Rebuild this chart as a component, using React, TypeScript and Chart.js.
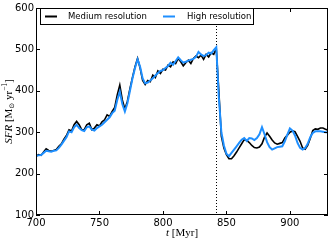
import React, { useEffect, useRef } from "react";
import { Chart, registerables } from "chart.js";

Chart.register(...registerables);

const times = [
  700, 702, 704, 706, 708, 710, 712, 714, 716, 718, 720, 722, 724, 726, 728, 730, 732, 734, 736, 738,
  740, 742, 744, 746, 748, 750, 752, 754, 756, 758, 760, 762, 764, 766, 768, 770, 772, 774, 776, 778,
  780, 782, 784, 786, 788, 790, 792, 794, 796, 798, 800, 802, 804, 806, 808, 810, 812, 814, 816, 818,
  820, 822, 824, 826, 828, 830, 832, 834, 836, 838, 840, 842, 844, 846, 848, 850, 852, 854, 856, 858,
  860, 862, 864, 866, 868, 870, 872, 874, 876, 878, 880, 882, 884, 886, 888, 890, 892, 894, 896, 898,
  900, 902, 904, 906, 908, 910, 912, 914, 916, 918, 920, 922, 924, 926, 928, 930,
];

const mediumRes = [
  242, 246, 244, 252, 260, 256, 254, 256, 258, 266, 272, 283, 292, 306, 303, 318, 326, 318, 306, 306,
  318, 322, 306, 310, 318, 315, 325, 330, 342, 338, 350, 360, 390, 414, 378, 356, 375, 405, 432, 458,
  478, 455, 425, 415, 425, 422, 438, 432, 448, 442, 452, 450, 462, 458, 470, 466, 478, 470, 460, 468,
  474, 466, 478, 484, 480, 486, 476, 488, 482, 492, 488, 502, 400, 290, 262, 246, 236, 236, 243, 252,
  262, 272, 282, 280, 275, 268, 263, 262, 264, 272, 288, 298, 290, 281, 274, 271, 273, 275, 286, 293,
  300, 303, 301, 290, 278, 262, 259, 268, 285, 304, 308, 307, 310, 310, 307, 305,
];

const highRes = [
  243, 244, 245, 250, 255, 254, 253, 255, 256, 262, 270, 279, 288, 302, 300, 312, 318, 310, 305, 303,
  312, 314, 306, 304, 310, 314, 318, 324, 330, 336, 346, 352, 378, 398, 368, 350, 370, 400, 430, 455,
  476, 458, 430, 418, 420, 425, 430, 437, 443, 448, 450, 455, 460, 468, 463, 472, 481, 474, 468, 470,
  473, 475, 477, 482, 494, 488, 484, 486, 492, 490, 498, 505, 385, 300, 268, 248, 242, 250, 258, 266,
  274, 282, 286, 279, 286, 285, 281, 286, 295, 312, 295, 276, 264, 258, 261, 264, 265, 266, 278, 294,
  309, 304, 292, 274, 262, 258, 262, 272, 288, 298, 302, 302, 302, 301, 300, 299,
];

const xTicks = [700, 750, 800, 850, 900];
const yTicks = [100, 200, 300, 400, 500, 600];
const seriesLabels = ["Medium resolution", "High resolution"];
const seriesColors = ["#000000", "#1e8fff"];
const transitionTime = 842;

const SANS = "'DejaVu Sans', sans-serif";
const SERIF = "'Liberation Serif', 'DejaVu Serif', serif";

const decorPlugin = {
  id: "decor",
  beforeDatasetsDraw(chart: any) {
    const ctx = chart.ctx;
    const { top, bottom } = chart.chartArea;
    const px = Math.round(chart.scales.x.getPixelForValue(transitionTime)) + 0.5;
    ctx.save();
    ctx.strokeStyle = "#000";
    ctx.lineWidth = 1;
    ctx.setLineDash([1, 2]);
    ctx.beginPath();
    ctx.moveTo(px, top);
    ctx.lineTo(px, bottom);
    ctx.stroke();
    ctx.restore();
  },
  afterDraw(chart: any) {
    const ctx = chart.ctx;
    const { left, right, top, bottom } = chart.chartArea;
    const xs = chart.scales.x;
    const ys = chart.scales.y;
    ctx.save();
    // frame
    ctx.strokeStyle = "#000";
    ctx.lineWidth = 1;
    ctx.strokeRect(left + 0.5, top + 0.5, right - left - 1, bottom - top - 1);
    // inward ticks on all sides
    ctx.beginPath();
    xTicks.forEach((v) => {
      const p = Math.round(xs.getPixelForValue(v)) + 0.5;
      ctx.moveTo(p, bottom);
      ctx.lineTo(p, bottom - 4);
      ctx.moveTo(p, top);
      ctx.lineTo(p, top + 4);
    });
    yTicks.forEach((v) => {
      const p = Math.round(ys.getPixelForValue(v)) + 0.5;
      ctx.moveTo(left, p);
      ctx.lineTo(left + 4, p);
      ctx.moveTo(right, p);
      ctx.lineTo(right - 4, p);
    });
    ctx.stroke();

    // legend
    const lx = 40.5, ly = 8.5, lw = 213, lh = 16;
    ctx.fillStyle = "#fff";
    ctx.fillRect(lx, ly, lw, lh);
    ctx.strokeStyle = "#000";
    ctx.strokeRect(lx, ly, lw, lh);
    const midY = ly + lh / 2;
    const items = [
      { x0: 45, x1: 57, tx: 68 },
      { x0: 163, x1: 175, tx: 187 },
    ];
    ctx.font = `8.5px ${SANS}`;
    ctx.textBaseline = "middle";
    ctx.textAlign = "left";
    items.forEach((it, i) => {
      ctx.strokeStyle = seriesColors[i];
      ctx.lineWidth = 2;
      ctx.beginPath();
      ctx.moveTo(it.x0, midY);
      ctx.lineTo(it.x1, midY);
      ctx.stroke();
      ctx.fillStyle = "#000";
      ctx.fillText(seriesLabels[i], it.tx, midY + 0.5);
    });

    // x title
    const cx = (left + right) / 2;
    ctx.fillStyle = "#000";
    ctx.textBaseline = "middle";
    const f1 = `italic 11px ${SERIF}`;
    const f2 = `11px ${SERIF}`;
    ctx.font = f1;
    const wt = ctx.measureText("t").width;
    ctx.font = f2;
    const wr = ctx.measureText(" [Myr]").width;
    let sx = cx - (wt + wr) / 2;
    ctx.font = f1;
    ctx.fillText("t", sx, 233);
    ctx.font = f2;
    ctx.fillText(" [Myr]", sx + wt, 233);

    // y title (rotated)
    const parts = [
      { t: "SFR", f: `italic 11px ${SERIF}`, dy: 0 },
      { t: " [M", f: `11px ${SERIF}`, dy: 0 },
      { t: "\u2299", f: `7px ${SANS}`, dy: 3 },
      { t: " yr", f: `11px ${SERIF}`, dy: 0 },
      { t: "\u22121", f: `7.5px ${SERIF}`, dy: -4 },
      { t: "]", f: `11px ${SERIF}`, dy: 0 },
    ];
    let total = 0;
    const widths = parts.map((p) => {
      ctx.font = p.f;
      const w = ctx.measureText(p.t).width;
      total += w;
      return w;
    });
    const cy = (top + bottom) / 2;
    ctx.translate(9, cy);
    ctx.rotate(-Math.PI / 2);
    let ox = -total / 2;
    parts.forEach((p, i) => {
      ctx.font = p.f;
      ctx.fillText(p.t, ox, p.dy);
      ox += widths[i];
    });
    ctx.restore();
  },
};

export default function App() {
  const ref = useRef<HTMLCanvasElement | null>(null);
  useEffect(() => {
    if (!ref.current) return;
    const medium = times.map((t, i) => ({ x: t, y: mediumRes[i] }));
    const high = times.map((t, i) => ({ x: t, y: highRes[i] }));
    const chart = new Chart(ref.current, {
      type: "line",
      data: {
        datasets: [
          {
            label: seriesLabels[0],
            data: medium,
            borderColor: seriesColors[0],
            borderWidth: 1.6,
            pointRadius: 0,
            tension: 0,
            order: 1,
          },
          {
            label: seriesLabels[1],
            data: high,
            borderColor: seriesColors[1],
            borderWidth: 2,
            pointRadius: 0,
            tension: 0,
            order: 0,
          },
        ],
      },
      options: {
        animation: false,
        responsive: false,
        maintainAspectRatio: false,
        layout: { padding: { top: 5, right: 1, left: 0, bottom: 0 } },
        plugins: {
          legend: { display: false },
          tooltip: { enabled: false },
          title: { display: false },
        },
        scales: {
          x: {
            type: "linear",
            min: 700,
            max: 930,
            afterFit: (s: any) => {
              s.height = 26;
            },
            afterBuildTicks: (s: any) => {
              s.ticks = xTicks.map((v) => ({ value: v }));
            },
            ticks: {
              font: { family: SANS, size: 10 },
              color: "#000",
              padding: 2,
              maxRotation: 0,
              autoSkip: false,
              includeBounds: false,
            },
            grid: { display: false, drawTicks: false },
            border: { display: false },
          },
          y: {
            type: "linear",
            min: 100,
            max: 600,
            afterFit: (s: any) => {
              s.width = 36;
            },
            afterBuildTicks: (s: any) => {
              s.ticks = yTicks.map((v) => ({ value: v }));
            },
            ticks: {
              font: { family: SANS, size: 10 },
              color: "#000",
              padding: 2,
              autoSkip: false,
              includeBounds: false,
            },
            grid: { display: false, drawTicks: false },
            border: { display: false },
          },
        },
      },
      plugins: [decorPlugin],
    });
    return () => chart.destroy();
  }, []);
  return (
    <div style={{ position: "absolute", left: 0, top: 0, width: 329, height: 241, background: "#fff" }}>
      <canvas ref={ref} width={329} height={241} style={{ width: 329, height: 241, display: "block" }} />
    </div>
  );
}
